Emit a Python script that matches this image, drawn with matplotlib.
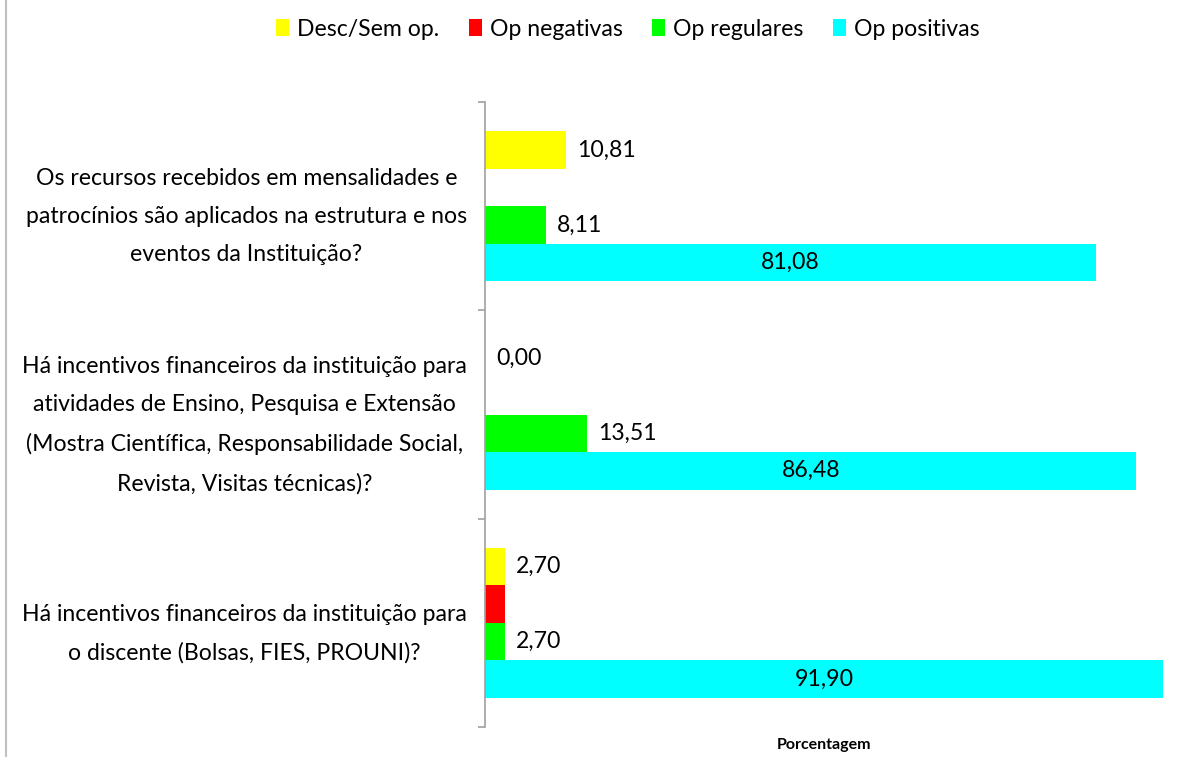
import matplotlib
matplotlib.use("Agg")
import matplotlib.pyplot as plt
from matplotlib.lines import Line2D
from matplotlib.patches import Patch

plt.rcParams['font.family'] = ['Lato', 'DejaVu Sans']

categories = [
    "Os recursos recebidos em mensalidades e\npatrocínios são aplicados na estrutura e nos\neventos da Instituição?",
    "Há incentivos financeiros da instituição para\natividades de Ensino, Pesquisa e Extensão\n(Mostra Científica, Responsabilidade Social,\nRevista, Visitas técnicas)?",
    "Há incentivos financeiros da instituição para\no discente (Bolsas, FIES, PROUNI)?",
]
series_names = ["Desc/Sem op.", "Op negativas", "Op regulares", "Op positivas"]
desc_sem_op = [10.81, 0.00, 2.70]
op_negativas = [0.00, 0.00, 2.70]
op_regulares = [8.11, 13.51, 2.70]
op_positivas = [81.08, 86.48, 91.90]
series_values = [desc_sem_op, op_negativas, op_regulares, op_positivas]
series_colors = ["#FFFF00", "#FF0000", "#00FF00", "#00FFFF"]
show_labels = [True, False, True, True]
label_inside = [False, False, False, True]
x_max = 90

W, H = 1198, 757
fig = plt.figure(figsize=(W / 100, H / 100), dpi=100)

# calibrate font size so the longest label line is ~445 px wide
renderer = fig.canvas.get_renderer()
probe = fig.text(0, 0, "Há incentivos financeiros da instituição para", fontsize=20)
w20 = probe.get_window_extent(renderer).width
probe.remove()
fs = 20 * 445 / w20

ax = fig.add_axes([485 / W, 1 - 727 / H, (1163 - 485) / W, (727 - 102) / H])

bar_h = 0.18
for j, (vals, col) in enumerate(zip(series_values, series_colors)):
    ys = [i + (j - 1.5) * bar_h for i in range(len(categories))]
    ax.barh(ys, vals, height=bar_h, color=col, edgecolor='none')
    if show_labels[j]:
        for y, v in zip(ys, vals):
            txt = f"{v:.2f}".replace('.', ',')
            if label_inside[j]:
                ax.text(min(v, x_max) / 2, y, txt, ha='center', va='center', fontsize=fs)
            else:
                ax.annotate(txt, (v, y), xytext=(11, 0), textcoords='offset pixels',
                            ha='left', va='center', fontsize=fs)

ax.set_xlim(0, x_max)
ax.set_ylim(len(categories) - 0.5, -0.5)

ax.set_yticks([-0.5, 0.5, 1.5, 2.5])
ax.set_yticklabels([])
ax.set_yticks(range(len(categories)), minor=True)
ax.set_yticklabels(categories, minor=True, fontsize=fs, ha='right', multialignment='center', linespacing=2.0)
ax.tick_params(axis='y', which='major', direction='out', length=5, color='#A0A0A0', width=1.2)
ax.tick_params(axis='y', which='minor', length=0, pad=13)
ax.set_xticks([])
for s in ['top', 'right', 'bottom']:
    ax.spines[s].set_visible(False)
ax.spines['left'].set_color('#A0A0A0')
ax.spines['left'].set_linewidth(1.2)

ax.set_xlabel("Porcentagem", fontsize=11.5, fontweight='bold', labelpad=8)

handles = [Patch(facecolor=c, edgecolor='none') for c in series_colors]
fig.legend(handles, series_names, loc='center', bbox_to_anchor=(628 / W, 1 - 29 / H),
           ncol=4, frameon=False, fontsize=fs, handlelength=0.55, handleheight=0.75,
           handletextpad=0.35, columnspacing=1.3)

fig.add_artist(Line2D([6 / W, 6 / W], [0, 1], transform=fig.transFigure, color='#BFBFBF', lw=1.5))

fig.savefig("out.png", dpi=100)
